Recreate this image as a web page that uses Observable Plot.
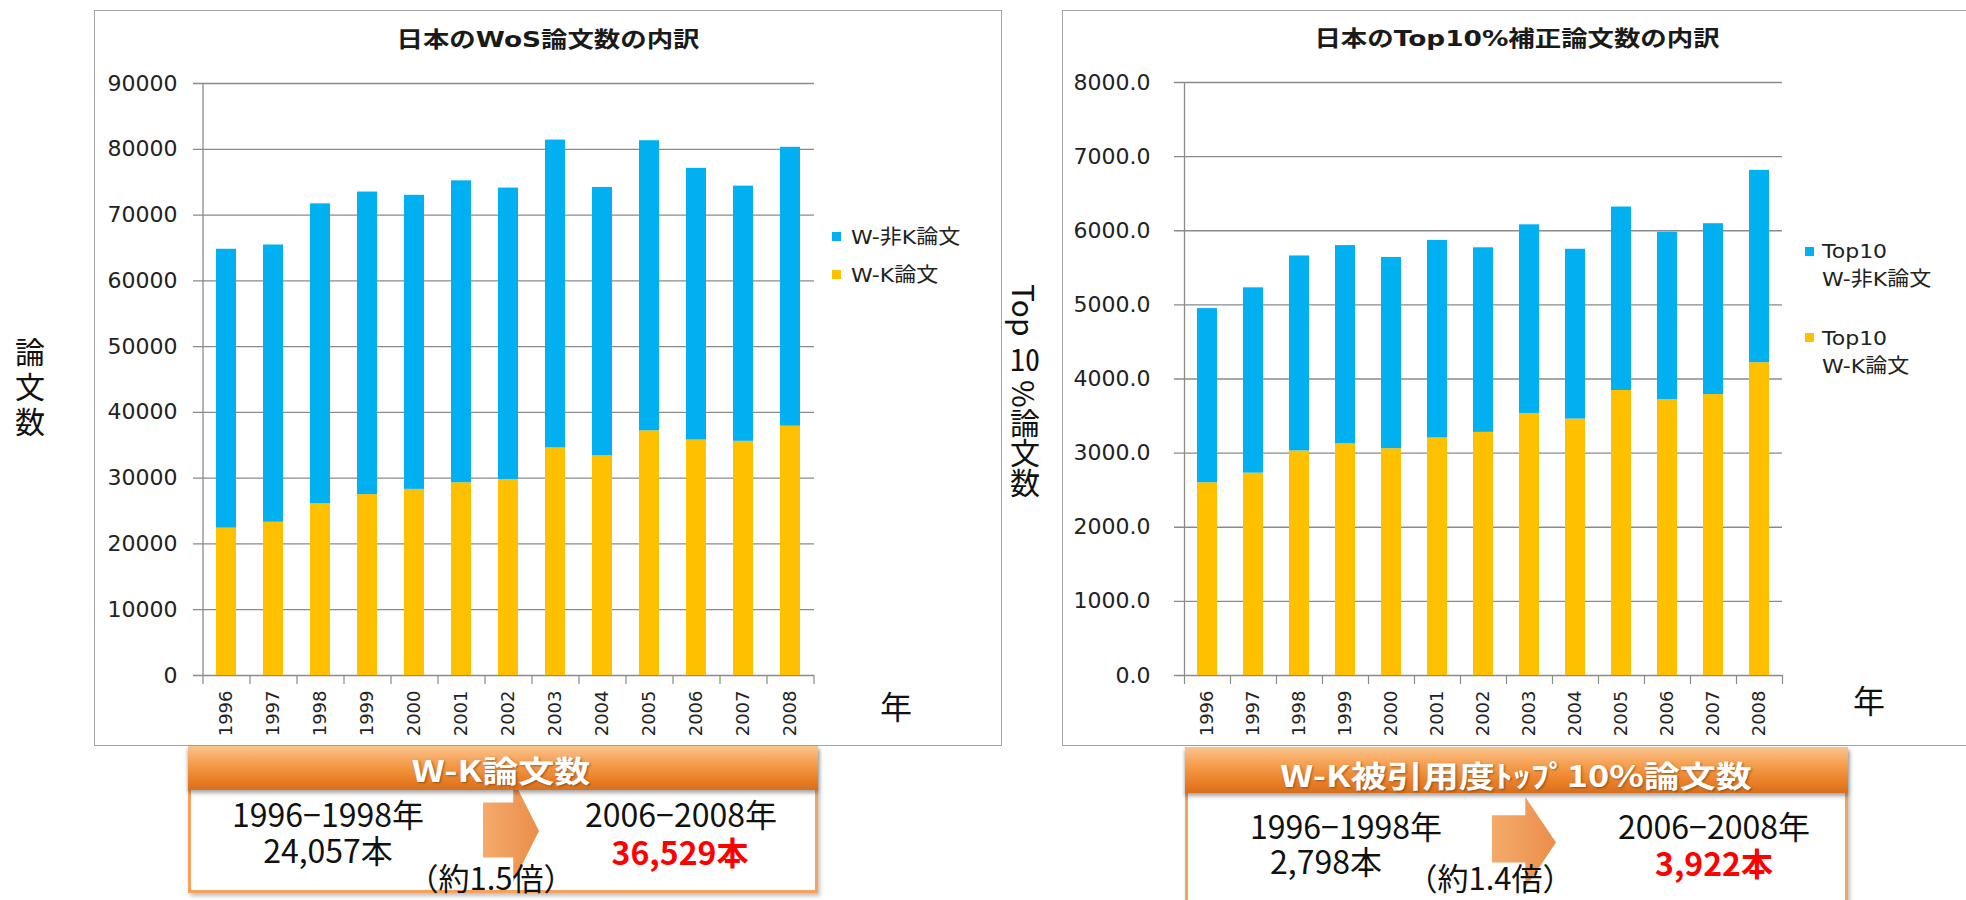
<!DOCTYPE html>
<html>
<head>
<meta charset="utf-8">
<script src="https://cdn.jsdelivr.net/npm/d3@7"></script>
<script src="https://cdn.jsdelivr.net/npm/@observablehq/plot@0.6"></script>
<style>
  body { margin: 0; background: #fff; }
  #page { position: relative; width: 1966px; height: 900px; overflow: hidden; background: #fff;
          font-family: "Noto Sans CJK JP", sans-serif; color: #111; }
  .frame { position: absolute; border: 1.5px solid #a3a3a3; box-sizing: border-box; }
  .chart { position: absolute; }
  .c { position: absolute; white-space: nowrap; line-height: 1; transform: translate(-50%, -50%); }
  .l { position: absolute; white-space: nowrap; line-height: 1; transform-origin: left center; }
  .title { font-family: "DejaVu Sans", "Noto Sans CJK JP", sans-serif; font-weight: bold; font-size: 22px;
           transform: translate(-50%, -50%) scaleX(1.2); color: #1a1a1a; }
  .leg { font-family: "DejaVu Sans", "Noto Sans CJK JP", sans-serif; font-size: 20px; color: #222;
         transform: translateY(-50%) scaleX(1.1); }
  .sw { position: absolute; width: 9px; height: 9px; }
  .big { font-size: 32px; color: #111; }
  .red { color: #ff0000; font-weight: bold; }
  .box { position: absolute; box-sizing: border-box; border: 3px solid #f7a15a; background: #fff;
         box-shadow: 2px 3px 4px rgba(0,0,0,0.25); }
  .head { position: absolute; box-sizing: border-box;
          background: linear-gradient(to bottom, #fbc48f 0%, #f59d4c 40%, #ea8027 75%, #d86f1c 100%);
          box-shadow: 0 3px 4px rgba(0,0,0,0.35); }
  .headtxt { font-weight: bold; font-size: 30px; color: #fff; text-shadow: 1px 1px 2px rgba(0,0,0,0.35);
             transform: translate(-50%, -50%) scaleX(1.2); }
  .arrow { position: absolute; background: linear-gradient(90deg, #f4a35e, #e9843a);
           opacity: 0.92; }
</style>
</head>
<body>
<div id="page">
  <div class="frame" style="left:94px; top:10px; width:908px; height:736px;"></div>
  <div class="frame" style="left:1062px; top:10px; width:910px; height:736px;"></div>
  <div id="left" class="chart" style="left:94px; top:10px; width:909px; height:736px;"></div>
  <div id="right" class="chart" style="left:1062px; top:10px; width:904px; height:736px;"></div>
</div>
<script>
// ---- data ----
const years = ["1996","1997","1998","1999","2000","2001","2002","2003","2004","2005","2006","2007","2008"];

// Left chart: 日本のWoS論文数の内訳
const wosWK    = [22400, 23300, 26100, 27500, 28300, 29300, 29800, 34600, 33400, 37200, 35800, 35600, 37900];
const wosNonK  = [42400, 42150, 45600, 46000, 44700, 45900, 44300, 46800, 40800, 44100, 41300, 38800, 42400];
const wosTicks = [0, 10000, 20000, 30000, 40000, 50000, 60000, 70000, 80000, 90000];
const wosSeries = ["W-K論文", "W-非K論文"];

// Right chart: 日本のTop10%補正論文数の内訳
const topWK    = [2600, 2730, 3030, 3125, 3060, 3205, 3280, 3535, 3460, 3845, 3720, 3790, 4220];
const topNonK  = [2350, 2500, 2630, 2675, 2580, 2665, 2490, 2545, 2290, 2475, 2260, 2305, 2595];
const topTicks = [0, 1000, 2000, 3000, 4000, 5000, 6000, 7000, 8000];
const topSeries = ["Top10 W-K論文", "Top10 W-非K論文"];

const seriesColors = ["#FFC000", "#00B0F0"];

// texts
const titles = ["日本のWoS論文数の内訳", "日本のTop10%補正論文数の内訳"];
const boxHeads = ["W-K論文数", "W-K被引用度ﾄｯﾌﾟ10%論文数"];
const periods = ["1996−1998年", "2006−2008年"];
const leftCounts = ["24,057本", "36,529本", "（約1.5倍）"];
const rightCounts = ["2,798本", "3,922本", "（約1.4倍）"];

function stacked({wk, nonK, names, ticks, max, fmt, width, height, ml, mr, mt, mb, pi, po, pad}) {
  const rows = years.flatMap((y, i) => [
    {year: y, series: names[0], value: wk[i]},
    {year: y, series: names[1], value: nonK[i]}
  ]);
  const step = (width - ml - mr) / years.length;
  const grid = "#8a8a8a";
  return Plot.plot({
    width, height, marginLeft: ml, marginRight: mr, marginTop: mt, marginBottom: mb,
    style: {fontFamily: "'DejaVu Sans', sans-serif", background: "transparent", color: "#222", overflow: "visible"},
    x: {domain: years, paddingInner: pi, paddingOuter: po, align: 0.5},
    y: {domain: [0, max]},
    color: {domain: names, range: seriesColors},
    marks: [
      Plot.ruleY(ticks, {y: d => d, stroke: grid, strokeWidth: 1.3, insetLeft: -10}),
      Plot.barY(rows, {x: "year", y: "value", fill: "series", order: names}),
      Plot.ruleX(years.slice(0, 1), {x: d => d, dx: -step / 2, stroke: grid, strokeWidth: 1.3}),
      Plot.ruleX(years, {x: d => d, dx: -step / 2, y1: 0, y2: 0, insetBottom: -9, stroke: grid, strokeWidth: 1.2}),
      Plot.ruleX(years.slice(-1), {x: d => d, dx: step / 2, y1: 0, y2: 0, insetBottom: -9, stroke: grid, strokeWidth: 1.2}),
      Plot.axisY({ticks, tickSize: 0, tickPadding: pad, tickFormat: fmt, fontSize: 22, label: null}),
      Plot.axisX({tickRotate: -90, tickSize: 0, tickPadding: 15, fontSize: 18, label: null})
    ]
  });
}

document.getElementById("left").append(stacked({
  wk: wosWK, nonK: wosNonK, names: wosSeries, ticks: wosTicks, max: 90000, fmt: d3.format("d"),
  width: 909, height: 736, ml: 109, mr: 189, mt: 73, mb: 71, pi: 0.57, po: 0.285, pad: 26
}));
document.getElementById("right").append(stacked({
  wk: topWK, nonK: topNonK, names: topSeries, ticks: topTicks, max: 8000, fmt: d3.format(".1f"),
  width: 904, height: 736, ml: 122, mr: 184, mt: 72, mb: 71, pi: 0.576, po: 0.288, pad: 34
}));

// ---- annotations (HTML) ----
const page = document.getElementById("page");
function add(html) { page.insertAdjacentHTML("beforeend", html); }

// titles
add(`<div class="c title" style="left:548px; top:40px;">${titles[0]}</div>`);
add(`<div class="c title" style="left:1517px; top:39px;">${titles[1]}</div>`);

// axis titles
add(`<div class="l" style="left:15px; top:337px; font-size:30px; writing-mode:vertical-rl; letter-spacing:5px; color:#111;">論文数</div>`);
add(`<div class="l" style="left:1010px; top:284px; font-size:30px; writing-mode:vertical-rl; color:#111;">Top <span style="text-combine-upright:all;">10</span> %論文数</div>`);
add(`<div class="c" style="left:896px; top:705px; font-size:32px;">年</div>`);
add(`<div class="c" style="left:1869px; top:699px; font-size:32px;">年</div>`);

// legends
add(`<div class="sw" style="left:832px; top:232px; background:${seriesColors[1]};"></div>`);
add(`<div class="l leg" style="left:851px; top:237px;">${wosSeries[1]}</div>`);
add(`<div class="sw" style="left:832px; top:270px; background:${seriesColors[0]};"></div>`);
add(`<div class="l leg" style="left:851px; top:275px;">${wosSeries[0]}</div>`);

add(`<div class="sw" style="left:1805px; top:247px; background:${seriesColors[1]};"></div>`);
add(`<div class="l leg" style="left:1822px; top:251px;">Top10</div>`);
add(`<div class="l leg" style="left:1822px; top:279px;">W-非K論文</div>`);
add(`<div class="sw" style="left:1805px; top:333px; background:${seriesColors[0]};"></div>`);
add(`<div class="l leg" style="left:1822px; top:338px;">Top10</div>`);
add(`<div class="l leg" style="left:1822px; top:366px;">W-K論文</div>`);

// lower summary boxes
add(`<div class="box" style="left:188px; top:746px; width:630px; height:147px;"></div>`);
add(`<div class="arrow" style="left:483px; top:780px; width:56px; height:102px; clip-path: polygon(0 22%, 54% 22%, 54% 0, 100% 50%, 54% 100%, 54% 76%, 0 76%);"></div>`);
add(`<div class="head" style="left:188px; top:746px; width:630px; height:44px;"></div>`);
add(`<div class="c headtxt" style="left:501px; top:769px;">${boxHeads[0]}</div>`);
add(`<div class="c big" style="left:328px; top:813px;">${periods[0]}</div>`);
add(`<div class="c big" style="left:328px; top:849px;">${leftCounts[0]}</div>`);
add(`<div class="c big" style="left:491px; top:876px; font-size:31px;">${leftCounts[2]}</div>`);
add(`<div class="c big" style="left:681px; top:813px;">${periods[1]}</div>`);
add(`<div class="c big red" style="left:680px; top:851px;">${leftCounts[1]}</div>`);

add(`<div class="box" style="left:1185px; top:747px; width:663px; height:170px;"></div>`);
add(`<div class="arrow" style="left:1492px; top:797px; width:64px; height:91px; clip-path: polygon(0 20%, 52% 20%, 52% 0, 100% 50%, 52% 100%, 52% 72%, 0 72%);"></div>`);
add(`<div class="head" style="left:1185px; top:747px; width:663px; height:46px;"></div>`);
add(`<div class="c headtxt" style="left:1516px; top:774px;">${boxHeads[1]}</div>`);
add(`<div class="c big" style="left:1346px; top:825px;">${periods[0]}</div>`);
add(`<div class="c big" style="left:1326px; top:860px;">${rightCounts[0]}</div>`);
add(`<div class="c big" style="left:1490px; top:876px; font-size:31px;">${rightCounts[2]}</div>`);
add(`<div class="c big" style="left:1714px; top:825px;">${periods[1]}</div>`);
add(`<div class="c big red" style="left:1714px; top:862px;">${rightCounts[1]}</div>`);
</script>
</body>
</html>
